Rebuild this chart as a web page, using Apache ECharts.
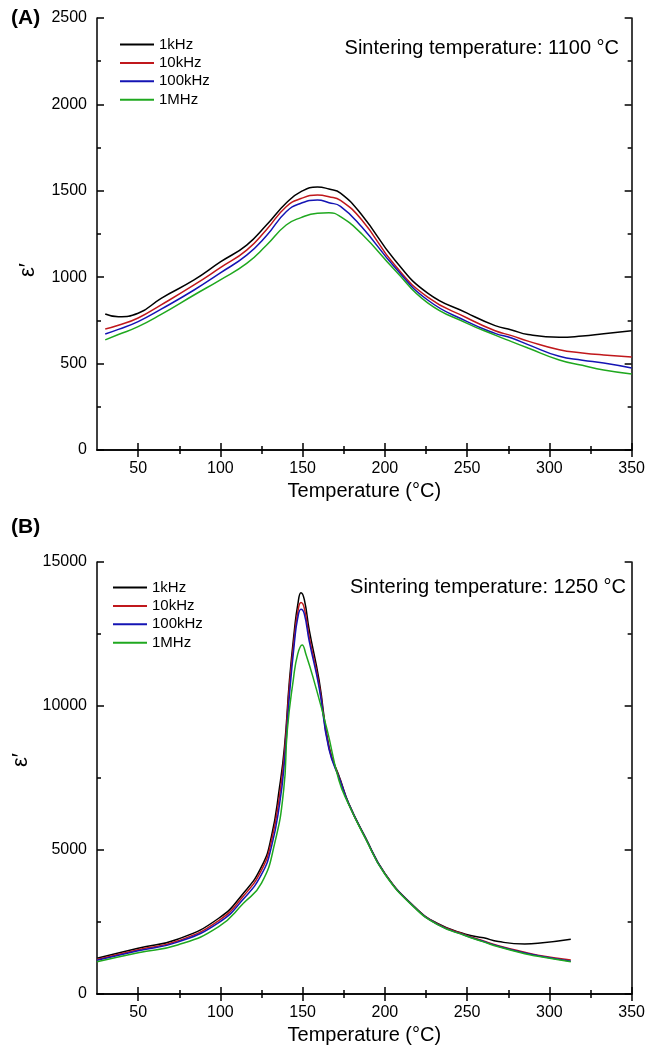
<!DOCTYPE html>
<html>
<head>
<meta charset="utf-8">
<script src="https://cdn.jsdelivr.net/npm/echarts/dist/echarts.min.js"></script>
<style>
  html, body { margin: 0; padding: 0; background: #fff; }
  #main { width: 648px; height: 1046px; }
</style>
</head>
<body>
<div id="main"></div>
<script>
// panel A: sintered at 1100 C
const tempA = [30, 38, 50, 64, 84, 100, 116, 128, 140, 149, 159, 166, 173, 186, 206, 226, 250, 267, 277, 287, 306, 320, 333, 350];
const a1k   = [787, 771, 791, 878, 984, 1088, 1186, 1302, 1429, 1495, 1522, 1510, 1487, 1360, 1100, 908, 792, 720, 695, 668, 652, 660, 673, 690];
const a10k  = [700, 722, 764, 840, 955, 1055, 1157, 1275, 1408, 1455, 1475, 1466, 1445, 1331, 1070, 885, 764, 690, 662, 630, 580, 562, 550, 538];
const a100k = [671, 698, 743, 815, 926, 1025, 1128, 1240, 1379, 1428, 1447, 1431, 1410, 1290, 1058, 868, 743, 675, 648, 610, 542, 520, 503, 475];
const a1M   = [637, 668, 714, 785, 897, 985, 1080, 1185, 1302, 1345, 1370, 1373, 1350, 1250, 1042, 852, 733, 665, 627, 590, 521, 490, 463, 440];

// panel B: sintered at 1250 C
const tempB   = [25, 50, 74, 99, 114, 125, 131, 136, 139, 142, 145, 147, 149, 151, 154, 160, 166, 173, 178, 188, 200, 218, 232, 249, 260, 269, 285, 293, 313];
const b1k     = [1240, 1590, 1900, 2630, 3500, 4420, 5460, 7200, 8600, 10900, 12640, 13500, 13935, 13700, 12640, 10900, 8600, 7430, 6620, 5460, 4190, 3030, 2450, 2080, 1950, 1820, 1740, 1760, 1900];
const b10k    = [1200, 1540, 1840, 2550, 3400, 4300, 5300, 6900, 8400, 10700, 12400, 13250, 13590, 13400, 12400, 10750, 8550, 7400, 6600, 5440, 4180, 3020, 2430, 2050, 1840, 1680, 1450, 1350, 1180];
const b100k   = [1170, 1500, 1800, 2480, 3300, 4150, 5100, 6600, 8100, 10400, 12200, 13050, 13360, 13200, 12250, 10650, 8500, 7380, 6600, 5440, 4170, 3010, 2420, 2030, 1820, 1660, 1420, 1330, 1140];
const tempB1M = [25, 50, 74, 99, 114, 125, 133, 138.5, 140.7, 144.3, 147, 149.7, 152, 156.8, 164.9, 172, 178, 188, 200, 218, 232, 249, 260, 269, 285, 293, 313];
const b1M     = [1120, 1435, 1700, 2340, 3150, 3850, 5230, 7100, 9170, 10900, 11800, 12120, 11800, 10900, 9170, 7430, 6580, 5420, 4160, 3000, 2410, 2020, 1810, 1640, 1400, 1310, 1120];

const seriesNames = ['1kHz', '10kHz', '100kHz', '1MHz'];
const colors = ['#000000', '#c0181c', '#1414b4', '#1fa81f'];

const xMajor = [50, 100, 150, 200, 250, 300, 350];
const xMinor = [75, 125, 175, 225, 275, 325];
const yMajorA = [0, 500, 1000, 1500, 2000, 2500];
const yMinorA = [250, 750, 1250, 1750, 2250];
const yMajorB = [0, 5000, 10000, 15000];
const yMinorB = [2500, 7500, 12500];

const FONT = 'Liberation Sans, Arial, sans-serif';
let myChart = echarts.init(document.getElementById('main'));

function zip(xs, ys) {
    return xs.map(function (x, i) { return [x, ys[i]]; });
}

// four axes per side: labelled major, minor, mirrored major, mirrored minor
function makeAxes(g, min, max, major, minor, posMain, posOther, isX) {
    let line = { color: '#000', width: 1.5 };
    let base = { gridIndex: g, type: 'value', min: min, max: max, splitLine: { show: false } };
    let list = [];
    list.push(Object.assign({}, base, {
        position: posMain,
        axisLine: { show: true, lineStyle: line },
        axisTick: { show: true, inside: true, length: 7, customValues: major, lineStyle: line },
        axisLabel: {
            show: true, customValues: major, fontSize: 16, color: '#000', fontFamily: FONT,
            margin: isX ? 11 : 10,
            formatter: function (v) { return String(v); }
        }
    }));
    list.push(Object.assign({}, base, {
        position: posMain,
        axisLine: { show: false },
        axisTick: { show: true, inside: true, length: 4, customValues: minor, lineStyle: line },
        axisLabel: { show: false }
    }));
    list.push(Object.assign({}, base, {
        position: posOther,
        axisLine: { show: true, lineStyle: line },
        axisTick: { show: true, inside: true, length: 7, customValues: major, lineStyle: line },
        axisLabel: { show: false }
    }));
    list.push(Object.assign({}, base, {
        position: posOther,
        axisLine: { show: false },
        axisTick: { show: true, inside: true, length: 4, customValues: minor, lineStyle: line },
        axisLabel: { show: false }
    }));
    return list;
}

let xAxes = makeAxes(0, 25, 350, xMajor, xMinor, 'bottom', 'top', true)
    .concat(makeAxes(1, 25, 350, xMajor, xMinor, 'bottom', 'top', true));
let yAxes = makeAxes(0, 0, 2500, yMajorA, yMinorA, 'left', 'right', false)
    .concat(makeAxes(1, 0, 15000, yMajorB, yMinorB, 'left', 'right', false));

[0, 4].forEach(function (i) {
    xAxes[i].name = 'Temperature (°C)';
    xAxes[i].nameLocation = 'middle';
    xAxes[i].nameGap = 31;
    xAxes[i].nameTextStyle = { fontSize: 20, color: '#000', fontFamily: FONT };
    yAxes[i].name = 'ε′';
    yAxes[i].nameLocation = 'middle';
    yAxes[i].nameGap = 58;
});
yAxes[0].nameTextStyle = { fontSize: 22, color: '#000', fontFamily: FONT, padding: [0, 72, 0, 0] };
yAxes[4].nameTextStyle = { fontSize: 22, color: '#000', fontFamily: FONT, padding: [0, 0, 0, 36] };

let seriesA = [a1k, a10k, a100k, a1M];
let seriesB = [zip(tempB, b1k), zip(tempB, b10k), zip(tempB, b100k), zip(tempB1M, b1M)];
let series = [];
seriesA.forEach(function (vals, i) {
    series.push({
        name: seriesNames[i], type: 'line', xAxisIndex: 0, yAxisIndex: 0,
        data: zip(tempA, vals), showSymbol: false, symbol: 'none', smooth: 0.5,
        lineStyle: { color: colors[i], width: 1.5 }, itemStyle: { color: colors[i] }
    });
});
seriesB.forEach(function (pts, i) {
    series.push({
        name: seriesNames[i], type: 'line', xAxisIndex: 4, yAxisIndex: 4,
        data: pts, showSymbol: false, symbol: 'none', smooth: 0.5,
        lineStyle: { color: colors[i], width: 1.5 }, itemStyle: { color: colors[i] }
    });
});

let legendBase = {
    orient: 'vertical', icon: 'rect', itemWidth: 34, itemHeight: 2, itemGap: 3.4, padding: 0,
    data: seriesNames, selectedMode: false,
    textStyle: { fontSize: 15, color: '#000', fontFamily: FONT, lineHeight: 15 }
};

let option = {
    animation: false,
    backgroundColor: '#fff',
    grid: [
        { left: 97, top: 18, width: 537, height: 432 },
        { left: 97, top: 562, width: 537, height: 432 }
    ],
    xAxis: xAxes,
    yAxis: yAxes,
    legend: [
        Object.assign({}, legendBase, { left: 120, top: 37 }),
        Object.assign({}, legendBase, { left: 113, top: 580 })
    ],
    graphic: [
        { type: 'text', left: 11, top: 8, style: { text: '(A)', fontSize: 21, fontWeight: 'bold', fill: '#000', fontFamily: FONT } },
        { type: 'text', left: 11, top: 517, style: { text: '(B)', fontSize: 21, fontWeight: 'bold', fill: '#000', fontFamily: FONT } },
        { type: 'text', right: 29, top: 38, style: { text: 'Sintering temperature: 1100 °C', fontSize: 20, fill: '#000', fontFamily: FONT } },
        { type: 'text', right: 22, top: 577, style: { text: 'Sintering temperature: 1250 °C', fontSize: 20, fill: '#000', fontFamily: FONT } }
    ],
    series: series
};

myChart.setOption(option, true);
</script>
</body>
</html>
